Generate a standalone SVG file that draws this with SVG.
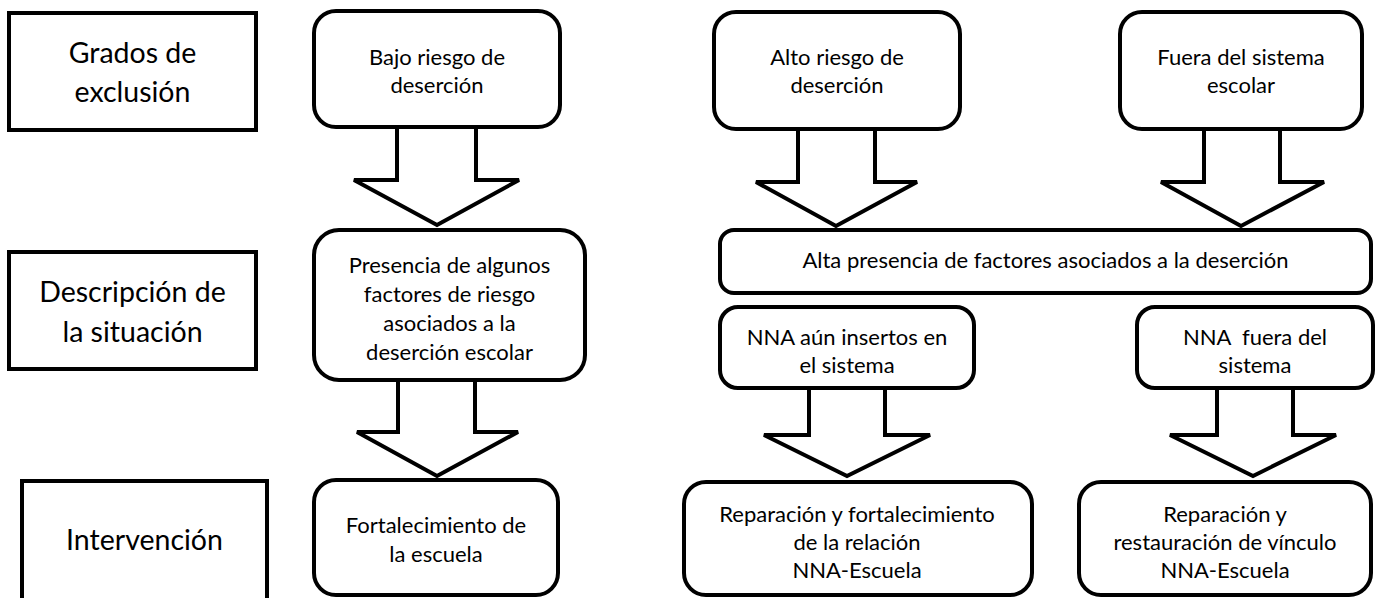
<svg xmlns="http://www.w3.org/2000/svg" width="1379" height="598" viewBox="0 0 1379 598">
<style>
.lbl{fill:#fff;stroke:#000;stroke-width:4}
.box{fill:#fff;stroke:#000;stroke-width:4}
.arr{fill:#fff;stroke:#000;stroke-width:4;stroke-linejoin:miter}
.big{font-family:Lato,"Liberation Sans",sans-serif;font-size:28.5px;fill:#000;text-anchor:middle}
.t{font-family:Lato,"Liberation Sans",sans-serif;font-size:22px;fill:#000;text-anchor:middle}
</style>
<rect width="1379" height="598" fill="#fff"/>
<g id="connectors">
<polygon class="arr" points="397,127 397,180 354,180 437,225 519,180 476,180 476,127"/>
<polygon class="arr" points="398,380 398,432 357,432 437,476 518,432 475,432 475,380"/>
<polygon class="arr" points="798,129 798,182 756,182 836,226 917,182 875,182 875,129"/>
<polygon class="arr" points="1204,129 1204,182 1161,182 1241,226 1324,182 1280,182 1280,129"/>
<polygon class="arr" points="809,388 809,435 764,435 847,476 930,435 885,435 885,388"/>
<polygon class="arr" points="1217,388 1217,435 1170,435 1253,476 1336,435 1293,435 1293,388"/>
</g>
<g id="grados">
<rect class="lbl" x="9" y="13" width="247" height="117"/>
<text class="big" x="132.5" y="63">Grados de</text>
<text class="big" x="132.5" y="102">exclusión</text>
</g>
<g id="descripcion">
<rect class="lbl" x="9" y="252" width="247" height="117"/>
<text class="big" x="132.5" y="302">Descripción de</text>
<text class="big" x="132.5" y="342">la situación</text>
</g>
<g id="intervencion">
<rect class="lbl" x="22" y="481" width="245" height="122"/>
<text class="big" x="144.5" y="550">Intervención</text>
</g>
<g id="bajo">
<rect class="box" x="314" y="11" width="246" height="116" rx="22"/>
<text class="t" x="437" y="65">Bajo riesgo de</text>
<text class="t" x="437" y="93">deserción</text>
</g>
<g id="presencia">
<rect class="box" x="314" y="230" width="271" height="150" rx="25"/>
<text class="t" x="449.5" y="273">Presencia de algunos</text>
<text class="t" x="449.5" y="302">factores de riesgo</text>
<text class="t" x="449.5" y="331">asociados a la</text>
<text class="t" x="449.5" y="360">deserción escolar</text>
</g>
<g id="fortalecimiento">
<rect class="box" x="314" y="480" width="244" height="115" rx="22"/>
<text class="t" x="436" y="533">Fortalecimiento de</text>
<text class="t" x="436" y="562">la escuela</text>
</g>
<g id="alto">
<rect class="box" x="714" y="12" width="246" height="117" rx="22"/>
<text class="t" x="837" y="65">Alto riesgo de</text>
<text class="t" x="837" y="93">deserción</text>
</g>
<g id="fuera">
<rect class="box" x="1120" y="12" width="242" height="117" rx="22"/>
<text class="t" x="1241" y="65">Fuera del sistema</text>
<text class="t" x="1241" y="93">escolar</text>
</g>
<g id="alta">
<rect class="box" x="720" y="230" width="651" height="63" rx="14"/>
<text class="t" x="1045.5" y="268">Alta presencia de factores asociados a la deserción</text>
</g>
<g id="insertos">
<rect class="box" x="720" y="307" width="254" height="81" rx="18"/>
<text class="t" x="847" y="345">NNA aún insertos en</text>
<text class="t" x="847" y="373">el sistema</text>
</g>
<g id="nnafuera">
<rect class="box" x="1137" y="307" width="236" height="81" rx="18"/>
<text class="t" x="1255" y="345" xml:space="preserve">NNA  fuera del</text>
<text class="t" x="1255" y="373">sistema</text>
</g>
<g id="reparacion1">
<rect class="box" x="684" y="482" width="348" height="113" rx="22"/>
<text class="t" x="857" y="522">Reparación y fortalecimiento</text>
<text class="t" x="857" y="550">de la relación</text>
<text class="t" x="857" y="578">NNA-Escuela</text>
</g>
<g id="reparacion2">
<rect class="box" x="1079" y="482" width="292" height="113" rx="22"/>
<text class="t" x="1225" y="522">Reparación y</text>
<text class="t" x="1225" y="550">restauración de vínculo</text>
<text class="t" x="1225" y="578">NNA-Escuela</text>
</g>
</svg>
